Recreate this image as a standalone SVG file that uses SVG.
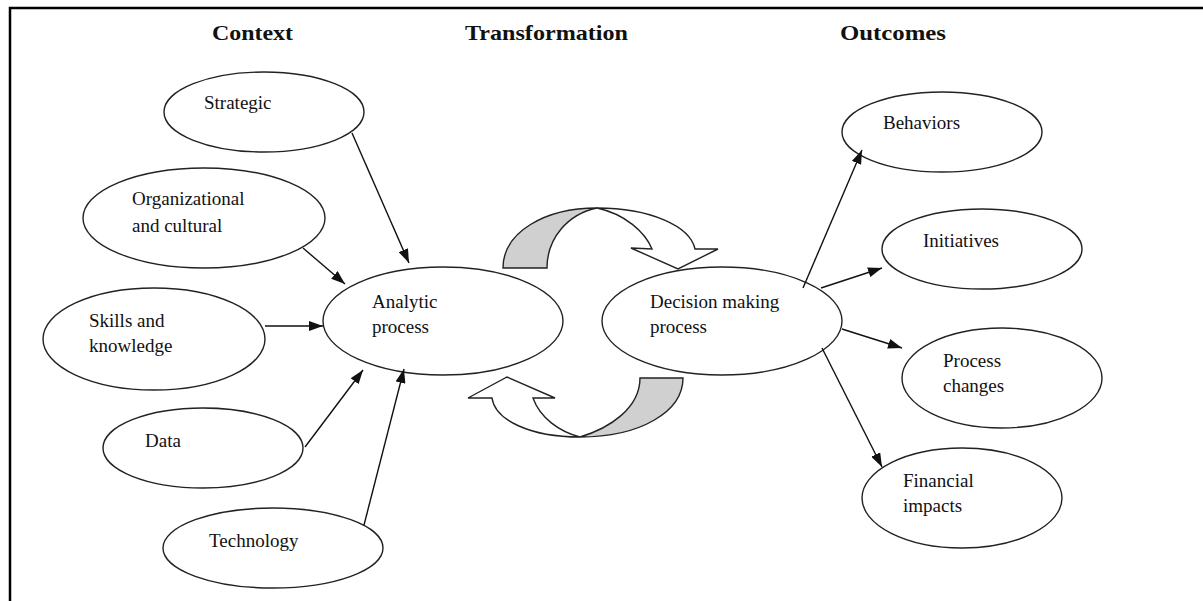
<svg xmlns="http://www.w3.org/2000/svg" width="1203" height="601" viewBox="0 0 1203 601">
  <style>
    .node ellipse { fill: #fff; stroke: #222; stroke-width: 1.4; }
    .lbl { font-family: "Liberation Serif", "Times New Roman", serif; font-size: 19px; fill: #111; }
    .hdr { font-family: "Liberation Serif", "Times New Roman", serif; font-size: 22px; font-weight: bold; fill: #111; }
    .conn line { stroke: #111; stroke-width: 1.4; marker-end: url(#ah); }
    .band { stroke: #222; stroke-width: 1.4; stroke-linejoin: miter; }
  </style>
  <defs>
    <marker id="ah" viewBox="0 0 14 10" refX="14" refY="5" markerWidth="14" markerHeight="10" markerUnits="userSpaceOnUse" orient="auto">
      <path d="M0,0 L14,5 L0,10 Z" fill="#111"/>
    </marker>
  </defs>
  <rect width="1203" height="601" fill="#fff"/>

  <!-- frame -->
  <path d="M10,601 V8 H1203" fill="none" stroke="#000" stroke-width="2.5"/>

  <!-- column headings -->
  <text class="hdr" x="212" y="40" textLength="81" lengthAdjust="spacingAndGlyphs">Context</text>
  <text class="hdr" x="465" y="40" textLength="163" lengthAdjust="spacingAndGlyphs">Transformation</text>
  <text class="hdr" x="840" y="40" textLength="106" lengthAdjust="spacingAndGlyphs">Outcomes</text>

  <!-- context inputs -->
  <g id="strategic" class="node">
    <ellipse cx="264" cy="112" rx="100" ry="40"/>
    <text class="lbl" x="204" y="109">Strategic</text>
  </g>
  <g id="organizational" class="node">
    <ellipse cx="204" cy="218" rx="121" ry="50"/>
    <text class="lbl" x="132" y="205">Organizational</text>
    <text class="lbl" x="132" y="232">and cultural</text>
  </g>
  <g id="skills" class="node">
    <ellipse cx="154" cy="339" rx="111" ry="51"/>
    <text class="lbl" x="89" y="327">Skills and</text>
    <text class="lbl" x="89" y="352">knowledge</text>
  </g>
  <g id="data" class="node">
    <ellipse cx="203" cy="448" rx="100" ry="40"/>
    <text class="lbl" x="145" y="447">Data</text>
  </g>
  <g id="technology" class="node">
    <ellipse cx="273" cy="548" rx="110" ry="40"/>
    <text class="lbl" x="209" y="547">Technology</text>
  </g>

  <!-- transformation -->
  <g id="analytic" class="node">
    <ellipse cx="443" cy="321" rx="120" ry="54"/>
    <text class="lbl" x="372" y="308">Analytic</text>
    <text class="lbl" x="372" y="333">process</text>
  </g>
  <g id="decision" class="node">
    <ellipse cx="722" cy="321" rx="120" ry="54"/>
    <text class="lbl" x="650" y="308">Decision making</text>
    <text class="lbl" x="650" y="333">process</text>
  </g>

  <!-- outcomes -->
  <g id="behaviors" class="node">
    <ellipse cx="942" cy="132" rx="100" ry="40"/>
    <text class="lbl" x="883" y="129">Behaviors</text>
  </g>
  <g id="initiatives" class="node">
    <ellipse cx="982" cy="249" rx="100" ry="40"/>
    <text class="lbl" x="923" y="247">Initiatives</text>
  </g>
  <g id="process-changes" class="node">
    <ellipse cx="1002" cy="378" rx="100" ry="50"/>
    <text class="lbl" x="943" y="367">Process</text>
    <text class="lbl" x="943" y="392">changes</text>
  </g>
  <g id="financial" class="node">
    <ellipse cx="962" cy="498" rx="100" ry="50"/>
    <text class="lbl" x="903" y="487">Financial</text>
    <text class="lbl" x="903" y="512">impacts</text>
  </g>

  <!-- cycle arrows between the two processes -->
  <g id="cycle-top">
    <path class="band" fill="#d0d0d0" d="M503,268 C503,232 545,208 597,208 C568,214 547,238 547,268 Z"/>
    <path class="band" fill="#fff" d="M597,208 C650,208 690,226 695,249 L718,249 L678,269 L631,248 L652,249 C645,232 625,214 597,208 Z"/>
  </g>
  <g id="cycle-bottom">
    <path class="band" fill="#d0d0d0" d="M683,378 C683,412 640,437 580,437 C610,428 640,408 640,378 Z"/>
    <path class="band" fill="#fff" d="M580,437 C530,437 495,420 492,398 L468,398 L507,377 L555,398 L533,398 C540,418 560,432 580,437 Z"/>
  </g>

  <!-- connectors -->
  <g id="connectors" class="conn">
    <line x1="352" y1="133" x2="409" y2="263"/>
    <line x1="303" y1="248" x2="345" y2="284"/>
    <line x1="265" y1="326" x2="323" y2="326"/>
    <line x1="305" y1="447" x2="363" y2="370"/>
    <line x1="364" y1="525" x2="404" y2="369"/>
    <line x1="803" y1="288" x2="862" y2="150"/>
    <line x1="821" y1="288" x2="882" y2="268"/>
    <line x1="842" y1="329" x2="902" y2="348"/>
    <line x1="822" y1="348" x2="882" y2="467"/>
  </g>
</svg>
